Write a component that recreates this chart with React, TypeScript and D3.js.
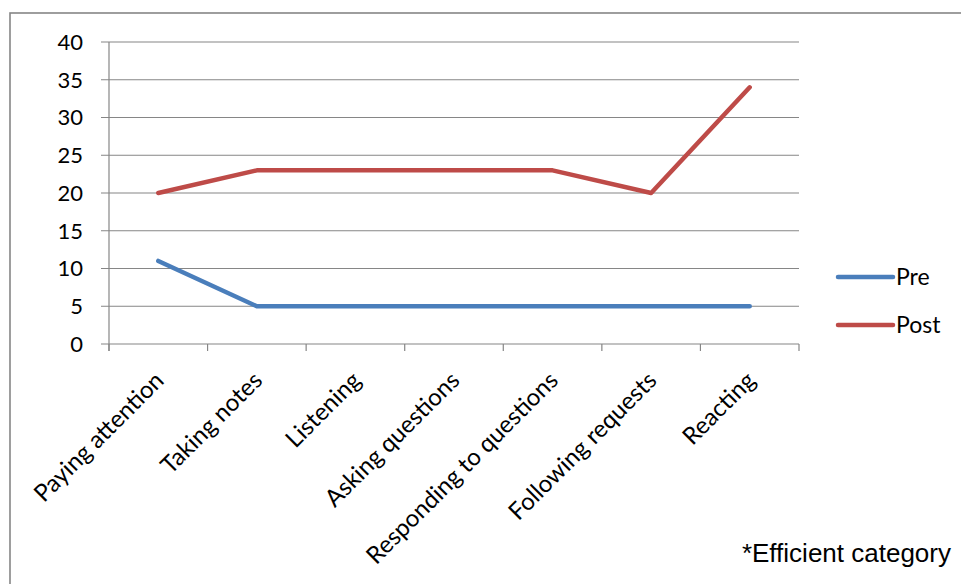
import * as d3 from 'd3';

const categories = [
  'Paying attention',
  'Taking notes',
  'Listening',
  'Asking questions',
  'Responding to questions',
  'Following requests',
  'Reacting',
];
const preValues = [11, 5, 5, 5, 5, 5, 5];
const postValues = [20, 23, 23, 23, 23, 20, 34];
const yTicks = [0, 5, 10, 15, 20, 25, 30, 35, 40];

const series = [
  { name: 'Pre', values: preValues, color: '#4a7ebb' },
  { name: 'Post', values: postValues, color: '#be4b48' },
];

const width = 961;
const height = 584;
const margins = { top: 42, right: 162, bottom: 240, left: 109 };
const gridColor = '#868686';
const font = 'Lato, "Open Sans", sans-serif';

const App = () => {
  const xScale = d3
    .scaleBand()
    .domain(categories)
    .range([margins.left, width - margins.right]);
  const yScale = d3
    .scaleLinear()
    .domain([0, 40])
    .range([height - margins.bottom, margins.top]);

  const line = d3
    .line<number>()
    .x((_, i) => (xScale(categories[i]) || 0) + xScale.bandwidth() / 2)
    .y(d => yScale(d));

  const x0 = margins.left;
  const x1 = width - margins.right;
  const yBase = yScale(0);

  return (
    <svg
      width={width}
      height={height}
      viewBox={`0 0 ${width} ${height}`}
      style={{ position: 'absolute', left: 0, top: 0, background: '#fff' }}
    >
      {/* chart border, cut off right and bottom */}
      <rect x={10} y={13} width={1000} height={700} fill="none" stroke={gridColor} strokeWidth={1.6} />

      {yTicks.map(t => (
        <g key={t}>
          <line x1={x0 - 8} x2={x1} y1={yScale(t)} y2={yScale(t)} stroke={gridColor} strokeWidth={1.2} />
          <text
            x={83}
            y={yScale(t)}
            dy="0.36em"
            textAnchor="end"
            fontFamily={font}
            fontSize={22}
            fill="#000"
          >
            {t}
          </text>
        </g>
      ))}

      <line x1={x0} x2={x0} y1={margins.top} y2={yBase + 7} stroke={gridColor} strokeWidth={1.2} />
      {[...categories.map(c => xScale(c) || 0), x1].map((x, i) => (
        <line key={i} x1={x} x2={x} y1={yBase} y2={yBase + 7} stroke={gridColor} strokeWidth={1.2} />
      ))}

      {categories.map(c => {
        const cx = (xScale(c) || 0) + xScale.bandwidth() / 2;
        return (
          <text
            key={c}
            transform={`translate(${cx + 7}, ${yBase + 38}) rotate(-45)`}
            textAnchor="end"
            fontFamily={font}
            fontSize={24}
            fill="#000"
          >
            {c}
          </text>
        );
      })}

      {series.map(s => (
        <path
          key={s.name}
          d={line(s.values) || ''}
          fill="none"
          stroke={s.color}
          strokeWidth={4.5}
          strokeLinecap="round"
          strokeLinejoin="round"
        />
      ))}

      {series.map((s, i) => (
        <g key={s.name} transform={`translate(838, ${277 + i * 48})`}>
          <line x1={0} x2={55} y1={0} y2={0} stroke={s.color} strokeWidth={4.5} strokeLinecap="round" />
          <text x={58} y={0} dy="0.36em" fontFamily={font} fontSize={23} fill="#000">
            {s.name}
          </text>
        </g>
      ))}

      <text
        x={951}
        y={562}
        textAnchor="end"
        fontFamily='"Liberation Sans", Arial, sans-serif'
        fontSize={26}
        fill="#000"
      >
        *Efficient category
      </text>
    </svg>
  );
};

export default App;
